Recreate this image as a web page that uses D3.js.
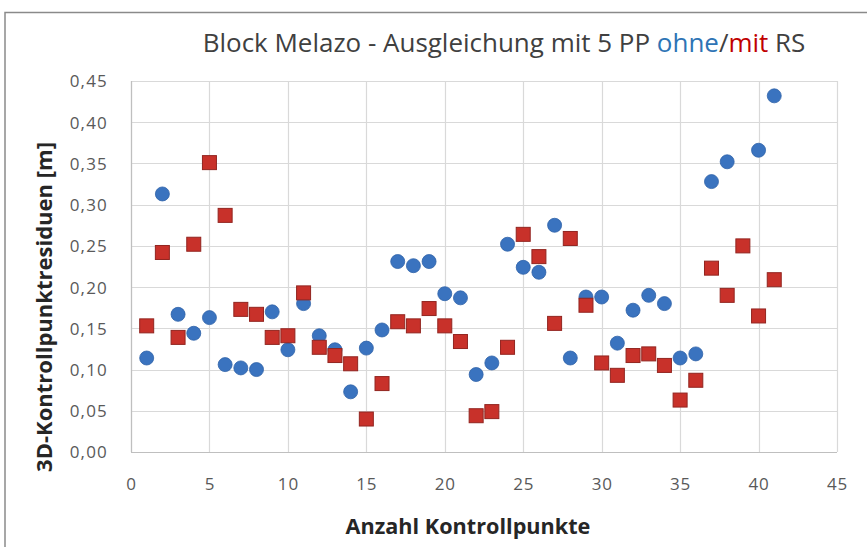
<!DOCTYPE html>
<html>
<head>
<meta charset="utf-8">
<script src="https://cdn.jsdelivr.net/npm/d3@7"></script>
<style>
  html, body { margin: 0; padding: 0; background: #fff; }
  svg { display: block; font-family: "Open Sans", "Noto Sans", sans-serif; }
</style>
</head>
<body>
<svg id="chart" width="867" height="547"></svg>
<script>
// ---- data ----
const xTicks = [0, 5, 10, 15, 20, 25, 30, 35, 40, 45];
const yTicks = [0, 0.05, 0.10, 0.15, 0.20, 0.25, 0.30, 0.35, 0.40, 0.45];
const pointNumbers = [1,2,3,4,5,6,7,8,9,10,11,12,13,14,15,16,17,18,19,20,21,22,23,24,25,26,27,28,29,30,31,32,33,34,35,36,37,38,39,40,41];
// ohne RS (blue circles); null = not visible
const ohneRS = [0.114,0.313,0.167,0.144,0.163,0.106,0.102,0.100,0.170,0.124,
                0.180,0.141,0.124,0.073,0.126,0.148,0.231,0.226,0.231,0.192,
                0.187,0.094,0.108,0.252,0.224,0.218,0.275,0.114,0.188,0.188,
                0.132,0.172,0.190,0.180,0.114,0.119,0.328,0.352,null,0.366,0.432];
// mit RS (red squares)
const mitRS  = [0.153,0.242,0.139,0.252,0.351,0.287,0.173,0.167,0.139,0.141,
                0.193,0.127,0.117,0.107,0.040,0.083,0.158,0.153,0.174,0.153,
                0.134,0.044,0.049,0.127,0.264,0.237,0.156,0.259,0.178,0.108,
                0.093,0.117,0.119,0.105,0.063,0.087,0.223,0.190,0.250,0.165,0.209];
const titleParts = [
  {t: "Block Melazo - Ausgleichung mit 5 PP ", c: "#404040"},
  {t: "ohne", c: "#2E74B5"},
  {t: "/", c: "#404040"},
  {t: "mit", c: "#C00000"},
  {t: " RS", c: "#404040"}
];
const xTitle = "Anzahl Kontrollpunkte";
const yTitle = "3D-Kontrollpunktresiduen [m]";

// ---- layout ----
const svg = d3.select("#chart");
const x = d3.scaleLinear().domain([0, 45]).range([131, 837]);
const y = d3.scaleLinear().domain([0, 0.45]).range([452, 81]);
const fmt = v => d3.format(".2f")(v).replace(".", ",");

// outer frame (top and left edges visible)
svg.append("path")
  .attr("d", "M5,547 L5,12.5 L867,12.5")
  .attr("fill", "none").attr("stroke", "#8a8a8a").attr("stroke-width", 1.5);

// grid
const g = svg.append("g");
g.selectAll("line.hg").data(yTicks).join("line")
  .attr("x1", x(0)).attr("x2", x(45))
  .attr("y1", d => Math.round(y(d)) + 0.5).attr("y2", d => Math.round(y(d)) + 0.5)
  .attr("stroke", "#d9d9d9").attr("stroke-width", 1.2);
g.selectAll("line.vg").data(xTicks).join("line")
  .attr("y1", y(0)).attr("y2", y(0.45))
  .attr("x1", d => Math.round(x(d)) + 0.5).attr("x2", d => Math.round(x(d)) + 0.5)
  .attr("stroke", "#d9d9d9").attr("stroke-width", 1.2);
// axis lines
g.append("line").attr("x1", x(0)).attr("x2", x(45))
  .attr("y1", Math.round(y(0)) + 0.5).attr("y2", Math.round(y(0)) + 0.5)
  .attr("stroke", "#bfbfbf").attr("stroke-width", 1.2);
g.append("line").attr("y1", y(0)).attr("y2", y(0.45))
  .attr("x1", Math.round(x(0)) + 0.5).attr("x2", Math.round(x(0)) + 0.5)
  .attr("stroke", "#bfbfbf").attr("stroke-width", 1.2);

// axes labels via d3 axes
const yAxis = svg.append("g").attr("transform", "translate(108,0)")
  .call(d3.axisLeft(y).tickValues(yTicks).tickFormat(fmt).tickSize(0).tickPadding(0));
yAxis.select(".domain").remove();
yAxis.selectAll("text")
  .attr("font-family", "Open Sans").attr("font-size", 17).attr("fill", "#595959")
  .attr("letter-spacing", 1.2).attr("dy", "0.35em");

const xAxis = svg.append("g").attr("transform", "translate(0,478)")
  .call(d3.axisBottom(x).tickValues(xTicks).tickFormat(d3.format("d")).tickSize(0).tickPadding(0));
xAxis.select(".domain").remove();
xAxis.selectAll("text")
  .attr("font-family", "Open Sans").attr("font-size", 17).attr("fill", "#595959")
  .attr("letter-spacing", 0.8).attr("dy", "0.71em");

// helper: fit text width
function fitWidth(sel, target) {
  const w = sel.node().getComputedTextLength();
  const fs = parseFloat(sel.attr("font-size"));
  sel.attr("font-size", fs * target / w);
}

// title
const title = svg.append("text").attr("x", 504).attr("y", 52)
  .attr("text-anchor", "middle").attr("font-size", 20).attr("font-family", "Open Sans");
title.selectAll("tspan").data(titleParts).join("tspan")
  .attr("fill", d => d.c).text(d => d.t);
fitWidth(title, 603);

// x title
const xt = svg.append("text").attr("x", 468).attr("y", 534)
  .attr("text-anchor", "middle").attr("font-weight", "bold")
  .attr("font-size", 17).attr("fill", "#262626").attr("font-family", "Open Sans")
  .text(xTitle);
fitWidth(xt, 245);

// y title
const yt = svg.append("text").attr("transform", "translate(52,307) rotate(-90)")
  .attr("text-anchor", "middle").attr("font-weight", "bold")
  .attr("font-size", 17).attr("fill", "#262626").attr("font-family", "Open Sans")
  .text(yTitle);
fitWidth(yt, 330);

// data points
const blue = pointNumbers.map((n, i) => ({n, v: ohneRS[i]})).filter(d => d.v != null);
const red = pointNumbers.map((n, i) => ({n, v: mitRS[i]})).filter(d => d.v != null);

svg.append("g").selectAll("circle").data(blue).join("circle")
  .attr("cx", d => x(d.n)).attr("cy", d => y(d.v)).attr("r", 7)
  .attr("fill", "#3a73bf").attr("stroke", "#2f62a8").attr("stroke-width", 0.8);

const sq = 14;
svg.append("g").selectAll("rect").data(red).join("rect")
  .attr("x", d => x(d.n) - sq / 2).attr("y", d => y(d.v) - sq / 2)
  .attr("width", sq).attr("height", sq)
  .attr("fill", "#c8312a").attr("stroke", "#922520").attr("stroke-width", 1);
</script>
</body>
</html>
